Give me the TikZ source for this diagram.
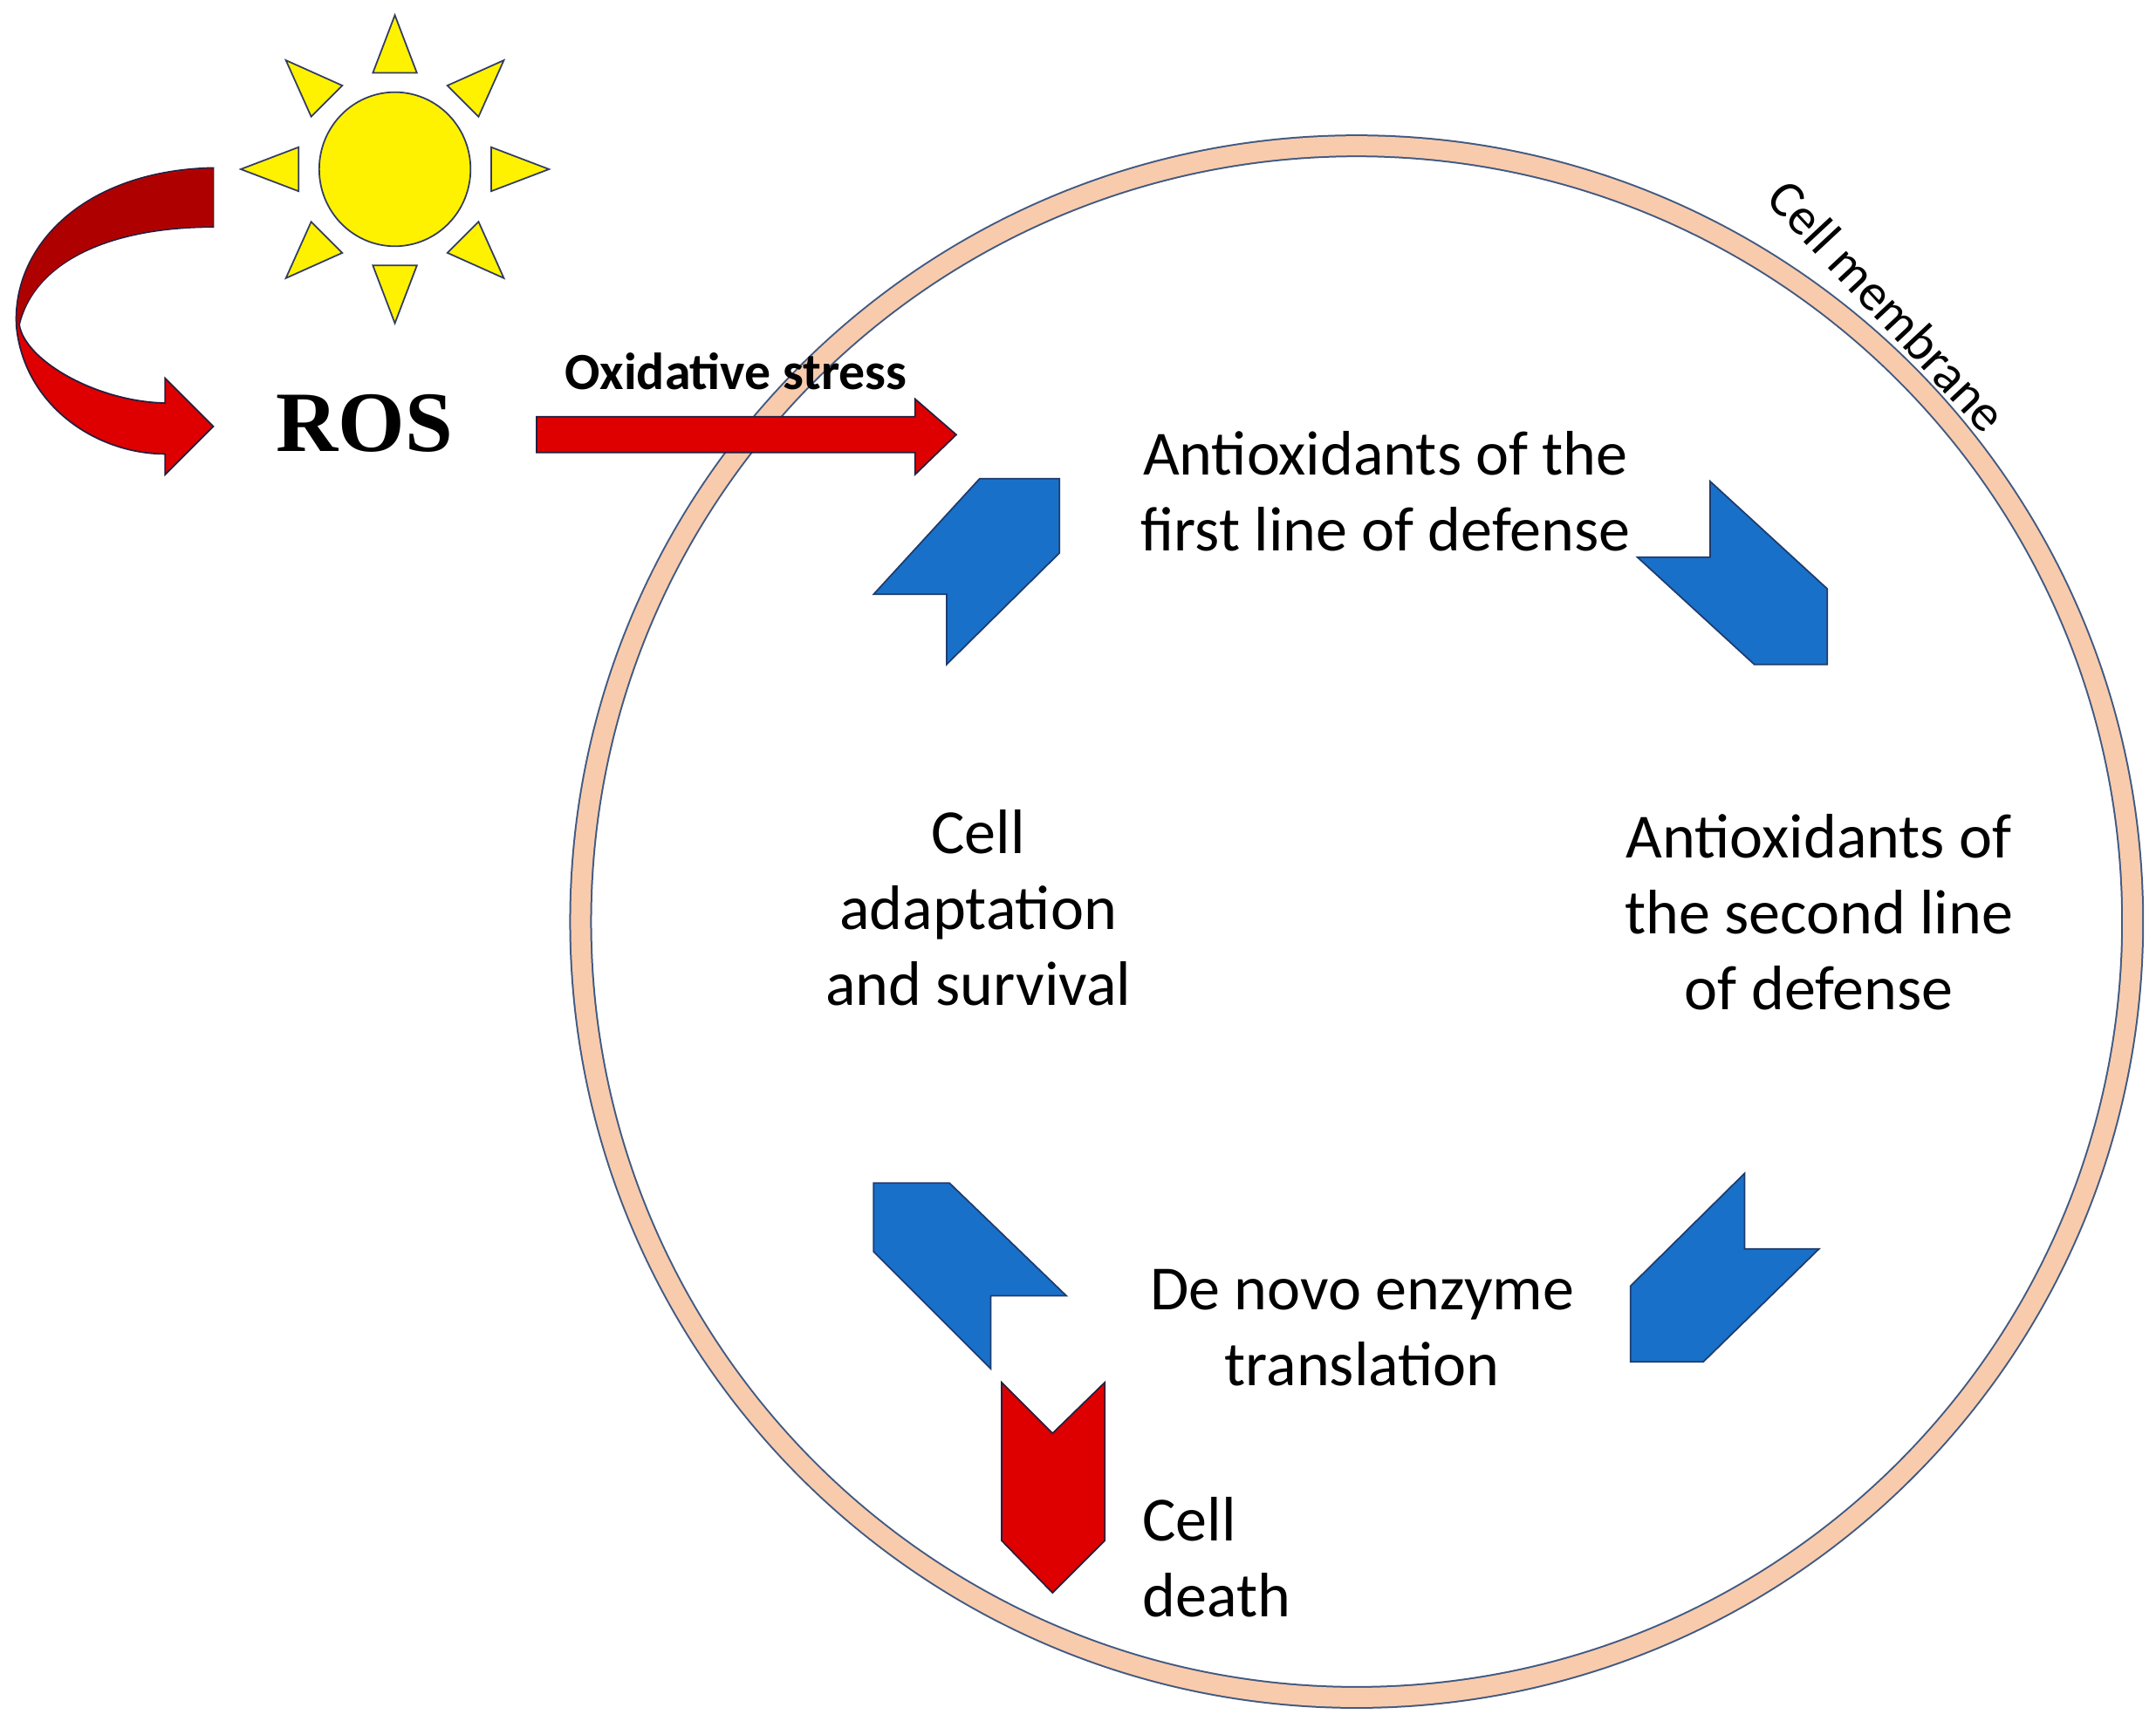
\documentclass[tikz,border=0pt]{standalone}
\usepackage{fontspec}
\usetikzlibrary{calc}
\setmainfont{Carlito}
\newfontfamily\rosfont{Liberation Serif}
\definecolor{cblue}{RGB}{25,112,200}
\definecolor{cblueline}{RGB}{30,60,110}
\definecolor{cred}{RGB}{222,0,0}
\definecolor{cdred}{RGB}{175,0,0}
\definecolor{credline}{RGB}{40,30,60}
\definecolor{cring}{RGB}{248,203,173}
\definecolor{cringline}{RGB}{65,90,130}
\definecolor{craye}{RGB}{50,60,100}
\begin{document}
\begin{tikzpicture}[x=0.015769cm,y=-0.015769cm,
  blu/.style={fill=cblue, draw=cblueline, line width=0.5pt},
  redsh/.style={fill=cred, draw=credline, line width=0.5pt},
  lab/.style={align=center, font=\fontsize{20.5}{24.8}\selectfont, inner sep=0pt},
  ray/.style={fill=yellow, draw=craye, line width=0.5pt}]
\useasboundingbox (0,0) rectangle (1567,1256);
% cell membrane
\draw[draw=cringline, line width=0.26cm] (986,670) circle (564);
\draw[draw=cring, line width=0.22cm] (986,670) circle (564);
\node[rotate=-47, font=\fontsize{17}{20}\selectfont] (cm) at (1372,222) {Cell membrane};
% sun
\draw[ray] (287,123) ellipse (55 and 56);
\foreach \a in {0,45,...,315}{
  \draw[ray] ($(287,123)+(\a:112)$) -- ($(287,123)+(\a:70)+(\a+90:16)$) -- ($(287,123)+(\a:70)+(\a-90:16)$) -- cycle;
}
% curved arrow
\filldraw[fill=cred, draw=credline, line width=0.5pt]
 (155,122) .. controls (60,124) and (8,180) .. (12,238) .. controls (18,295) and (70,330) .. (120,330)
 -- (120,345) -- (155,310) -- (120,275) -- (120,293)
 .. controls (70,292) and (18,262) .. (14,236) .. controls (25,190) and (80,165) .. (155,165) -- cycle;
\fill[cdred]
 (155,123) .. controls (60,125) and (9,180) .. (13,237) .. controls (25,190) and (80,164) .. (155,164) -- cycle;
\node[font=\rosfont\bfseries\fontsize{28}{30}\selectfont] (ros) at (265,308) {ROS};
% straight arrow
\draw[redsh] (390,303) -- (665,303) -- (665,290) -- (695,316) -- (665,345) -- (665,329) -- (390,329) -- cycle;
\node[font=\bfseries\fontsize{17}{20}\selectfont] (ox) at (535,270) {Oxidative stress};
% labels
\node[lab] (a1) at (1007,357) {Antioxidants of the\\first line of defense};
\node[lab] (a2) at (1322,663) {Antioxidants of\\the second line\\of defense};
\node[lab] (de) at (990,965) {De novo enzyme\\translation};
\node[lab] (ca) at (711,660) {Cell\\adaptation\\and survival};
\node[lab, align=left, anchor=west] (cd) at (830,1132) {Cell\\death};
% chevrons
\draw[blu] (712,348) -- (770,348) -- (770,402) -- (688,483) -- (688,432) -- (635,432) -- cycle;
\draw[blu] (1243,350) -- (1328,428) -- (1328,483) -- (1275,483) -- (1190,405) -- (1243,405) -- cycle;
\draw[blu] (1268,853) -- (1268,908) -- (1322,908) -- (1238,990) -- (1185,990) -- (1185,935) -- cycle;
\draw[blu] (635,860) -- (690,860) -- (775,942) -- (720,942) -- (720,995) -- (635,910) -- cycle;
\draw[redsh] (728,1005) -- (765,1042) -- (803,1005) -- (803,1120) -- (765,1158) -- (728,1120) -- cycle;
\end{tikzpicture}
\end{document}
